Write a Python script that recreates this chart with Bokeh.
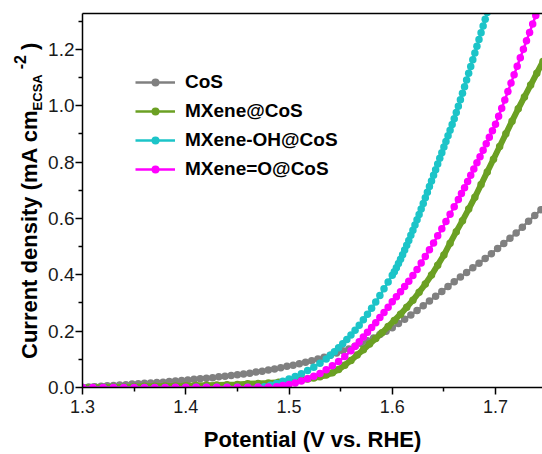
from bokeh.plotting import figure
from bokeh.models import (Range1d, FixedTicker, PrintfTickFormatter, LinearAxis,
                          Legend, LegendItem, Div)
from bokeh.layouts import row
from bokeh.embed import file_html
from bokeh.resources import INLINE

# ---------------- data ----------------
X_TICKS = [1.3, 1.4, 1.5, 1.6, 1.7]
X_MINOR = [1.35, 1.45, 1.55, 1.65]
Y_TICKS = [0.0, 0.2, 0.4, 0.6, 0.8, 1.0, 1.2]
Y_MINOR = [0.1, 0.3, 0.5, 0.7, 0.9, 1.1, 1.3]

SERIES_NAMES = ["CoS", "MXene@CoS", "MXene-OH@CoS", "MXene=O@CoS"]
SERIES_COLORS = ["#808080", "#6BA023", "#1CC4C8", "#FF00FF"]

COS_X = [1.300, 1.306, 1.312, 1.318, 1.324, 1.330, 1.336, 1.342, 1.348, 1.354,
         1.360, 1.366, 1.372, 1.378, 1.384, 1.390, 1.396, 1.402, 1.408, 1.414,
         1.420, 1.426, 1.432, 1.438, 1.444, 1.450, 1.456, 1.462, 1.468, 1.474,
         1.480, 1.486, 1.492, 1.498, 1.504, 1.510, 1.516, 1.522, 1.528, 1.534,
         1.540, 1.546, 1.552, 1.558, 1.564, 1.570, 1.576, 1.582, 1.588, 1.594,
         1.600, 1.606, 1.612, 1.618, 1.624, 1.630, 1.636, 1.642, 1.648, 1.654,
         1.660, 1.666, 1.672, 1.678, 1.684, 1.690, 1.696, 1.702, 1.708, 1.714,
         1.720, 1.726, 1.732, 1.738, 1.744]
COS_Y = [0.000, 0.002, 0.003, 0.004, 0.006, 0.007, 0.009, 0.010, 0.012, 0.013,
         0.015, 0.016, 0.018, 0.019, 0.021, 0.023, 0.025, 0.027, 0.029, 0.031,
         0.033, 0.035, 0.038, 0.040, 0.043, 0.045, 0.048, 0.051, 0.055, 0.058,
         0.062, 0.066, 0.070, 0.075, 0.079, 0.084, 0.090, 0.095, 0.101, 0.107,
         0.114, 0.122, 0.130, 0.137, 0.146, 0.156, 0.166, 0.176, 0.188, 0.200,
         0.212, 0.227, 0.242, 0.257, 0.273, 0.290, 0.307, 0.324, 0.341, 0.358,
         0.375, 0.392, 0.408, 0.425, 0.441, 0.458, 0.475, 0.493, 0.511, 0.530,
         0.548, 0.569, 0.590, 0.610, 0.631]

MX_X = [1.30, 1.31, 1.32, 1.33, 1.34, 1.35, 1.36, 1.37, 1.38, 1.39,
        1.40, 1.41, 1.42, 1.43, 1.44, 1.45, 1.46, 1.47, 1.48, 1.49, 1.50,
        1.506, 1.512, 1.518, 1.524, 1.530, 1.536, 1.542, 1.548, 1.554, 1.560,
        1.566, 1.572, 1.578, 1.584, 1.590, 1.596, 1.602, 1.608, 1.614, 1.620,
        1.626, 1.632, 1.638, 1.644, 1.650, 1.656, 1.662, 1.668, 1.674, 1.680,
        1.686, 1.692, 1.698, 1.704, 1.710, 1.716, 1.722, 1.728, 1.734, 1.740,
        1.746]
MX_Y = [0.000, 0.001, 0.001, 0.002, 0.002, 0.003, 0.004, 0.004, 0.005, 0.005,
        0.006, 0.007, 0.008, 0.009, 0.010, 0.011, 0.013, 0.014, 0.016, 0.019, 0.022,
        0.024, 0.027, 0.030, 0.034, 0.038, 0.044, 0.052, 0.064, 0.079, 0.096,
        0.115, 0.134, 0.154, 0.174, 0.194, 0.216, 0.238, 0.260, 0.285, 0.310,
        0.338, 0.367, 0.399, 0.434, 0.470, 0.512, 0.553, 0.592, 0.633, 0.675,
        0.720, 0.765, 0.810, 0.855, 0.900, 0.945, 0.989, 1.031, 1.073, 1.115,
        1.157]

OH_X = [1.30, 1.31, 1.32, 1.33, 1.34, 1.35, 1.36, 1.37, 1.38, 1.39,
        1.40, 1.41, 1.42, 1.43, 1.44, 1.45, 1.46, 1.47,
        1.476, 1.482, 1.488, 1.494, 1.500, 1.506, 1.512, 1.518, 1.524, 1.530, 1.536,
        1.540, 1.544, 1.548, 1.552, 1.556, 1.560, 1.564, 1.568, 1.572, 1.576,
        1.580, 1.584, 1.588, 1.592, 1.596, 1.600,
        1.602, 1.604, 1.606, 1.608, 1.610, 1.612, 1.614, 1.616, 1.618, 1.620,
        1.622, 1.624, 1.626, 1.628, 1.630, 1.632, 1.634, 1.636, 1.638, 1.640,
        1.642, 1.644, 1.646, 1.648, 1.650, 1.652, 1.654, 1.656, 1.658, 1.660,
        1.662, 1.664, 1.666, 1.668, 1.670, 1.672, 1.674, 1.676, 1.678, 1.680,
        1.682, 1.684, 1.686, 1.688, 1.690, 1.692, 1.694]
OH_Y = [0.000, 0.000, 0.000, 0.000, 0.000, 0.000, 0.000, 0.000, 0.000, 0.000,
        0.000, 0.001, 0.001, 0.001, 0.001, 0.001, 0.001, 0.002,
        0.003, 0.008, 0.014, 0.022, 0.030, 0.039, 0.049, 0.060, 0.072, 0.086, 0.101,
        0.114, 0.127, 0.141, 0.155, 0.170, 0.186, 0.203, 0.221, 0.240, 0.260,
        0.281, 0.303, 0.326, 0.350, 0.374, 0.398,
        0.411, 0.425, 0.440, 0.455, 0.471, 0.488, 0.505, 0.522, 0.540, 0.558,
        0.577, 0.595, 0.614, 0.633, 0.653, 0.673, 0.693, 0.713, 0.733, 0.753,
        0.773, 0.793, 0.813, 0.833, 0.853, 0.873, 0.893, 0.913, 0.933, 0.954,
        0.976, 0.998, 1.021, 1.044, 1.067, 1.091, 1.115, 1.139, 1.163, 1.187,
        1.211, 1.235, 1.259, 1.283, 1.307, 1.331, 1.355]

O_X = [1.30, 1.31, 1.32, 1.33, 1.34, 1.35, 1.36, 1.37, 1.38, 1.39,
       1.40, 1.41, 1.42, 1.43, 1.44, 1.45, 1.46, 1.47, 1.48,
       1.488, 1.494, 1.500, 1.506, 1.512, 1.518, 1.524, 1.530, 1.536, 1.542,
       1.548, 1.554, 1.560,
       1.564, 1.568, 1.572, 1.576, 1.580, 1.584, 1.588, 1.592, 1.596, 1.600,
       1.604, 1.608, 1.612, 1.616, 1.620, 1.624, 1.628, 1.632, 1.636, 1.640,
       1.644, 1.648, 1.652, 1.656, 1.660, 1.664,
       1.667, 1.670, 1.673, 1.676, 1.679, 1.682, 1.685, 1.688, 1.691, 1.694,
       1.697, 1.700, 1.703, 1.706, 1.709, 1.712, 1.715, 1.718, 1.721, 1.724,
       1.727, 1.730, 1.733, 1.736, 1.739, 1.742]
O_Y = [0.000, 0.000, 0.000, 0.000, 0.000, 0.000, 0.000, 0.000, 0.000, 0.001,
       0.001, 0.001, 0.001, 0.001, 0.001, 0.001, 0.001, 0.002, 0.002,
       0.003, 0.007, 0.011, 0.016, 0.023, 0.031, 0.040, 0.050, 0.063, 0.077,
       0.092, 0.110, 0.130,
       0.146, 0.162, 0.179, 0.196, 0.213, 0.230, 0.248, 0.266, 0.285, 0.304,
       0.322, 0.340, 0.358, 0.377, 0.397, 0.419, 0.442, 0.465, 0.489, 0.513,
       0.538, 0.563, 0.589, 0.615, 0.641, 0.667,
       0.688, 0.709, 0.731, 0.753, 0.775, 0.797, 0.819, 0.842, 0.865, 0.888,
       0.911, 0.934, 0.962, 0.991, 1.020, 1.050, 1.080, 1.110, 1.140, 1.170,
       1.200, 1.230, 1.260, 1.290, 1.320, 1.350]

SERIES_X = [COS_X, MX_X, OH_X, O_X]
SERIES_Y = [COS_Y, MX_Y, OH_Y, O_Y]

# ---------------- layout sizes ----------------
FONT = "Liberation Sans"
LABEL_W = 45                      # column holding the vertical y-axis title
W, H = 542 - LABEL_W, 454
X0, X1 = 1.3, 1.7455
Y0, Y1 = 0.0, 1.327

p = figure(width=W, height=H, output_backend="svg", toolbar_location=None,
           x_range=Range1d(X0, X1), y_range=Range1d(Y0, Y1),
           min_border_left=82 - LABEL_W, min_border_right=0,
           min_border_top=13, min_border_bottom=66, margin=0)
p.outline_line_color = None
p.grid.visible = False
p.background_fill_color = "white"
p.border_fill_color = "white"

items = []
for name, color, xs, ys in zip(SERIES_NAMES, SERIES_COLORS, SERIES_X, SERIES_Y):
    if name == "MXene@CoS":
        # dense band under the points (the reference band is solid)
        p.line(xs, ys, line_color=color, line_width=6)
    lr = p.line(xs, ys, line_color=color, line_width=2.5)
    sr = p.scatter(xs, ys, size=7.5, fill_color=color, line_color=None)
    items.append(LegendItem(label=name, renderers=[lr, sr]))

legend = Legend(items=items, location=(53, 207), padding=0, margin=0,
                border_line_color=None, background_fill_alpha=0,
                glyph_width=40, glyph_height=20, label_height=20, spacing=7,
                label_standoff=10, label_text_font=FONT,
                label_text_font_size="19px", label_text_font_style="bold",
                label_text_color="black")
p.add_layout(legend)

for ax, ticks, minor in ((p.xaxis[0], X_TICKS, X_MINOR), (p.yaxis[0], Y_TICKS, Y_MINOR)):
    ax.ticker = FixedTicker(ticks=ticks, minor_ticks=minor)
    ax.formatter = PrintfTickFormatter(format="%.1f")
    ax.axis_line_width = 1.5
    ax.axis_line_color = "black"
    ax.major_tick_line_width = 1.5
    ax.minor_tick_line_width = 1.5
    ax.major_tick_line_color = "black"
    ax.minor_tick_line_color = "black"
    ax.major_tick_out = 7
    ax.major_tick_in = 0
    ax.minor_tick_out = 4
    ax.minor_tick_in = 0
    ax.major_label_text_font = FONT
    ax.major_label_text_color = "#1a1a1a"

p.xaxis.major_label_text_font_size = "18px"
p.yaxis.major_label_text_font_size = "19px"
p.xaxis.major_label_standoff = 5
p.yaxis.major_label_standoff = 1
p.xaxis.axis_label = "Potential (V vs. RHE)"
p.xaxis.axis_label_text_font = FONT
p.xaxis.axis_label_text_font_size = "22px"
p.xaxis.axis_label_text_font_style = "bold"
p.xaxis.axis_label_text_color = "black"
p.xaxis.axis_label_standoff = 11

top = LinearAxis(ticker=FixedTicker(ticks=[]), axis_line_width=1.5,
                 axis_line_color="black", major_tick_out=0, major_tick_in=0,
                 minor_tick_out=0, minor_tick_in=0, major_label_standoff=0,
                 axis_label_standoff=0)
p.add_layout(top, "above")

# vertical y-axis title with subscript / superscript, as real HTML text
ytitle = Div(width=LABEL_W, height=H, margin=0, text=(
    '<div style="position:absolute; left:19px; top:359px; '
    'transform:rotate(-90deg); transform-origin:0 0; white-space:nowrap; '
    "font-family:'Liberation Sans', Arial, sans-serif; font-weight:bold; "
    'font-size:22px; line-height:22px; color:black;">'
    'Current density (mA cm'
    '<span style="font-size:13px; vertical-align:-5px; line-height:0;">ECSA</span>'
    '<span style="font-size:16px; vertical-align:11px; line-height:0; '
    'margin-left:5px;">-2</span>'
    '<span style="margin-left:5px;">)</span></div>'))

layout = row(ytitle, p, spacing=0)
open("out.html", "w").write(file_html(layout, INLINE))
